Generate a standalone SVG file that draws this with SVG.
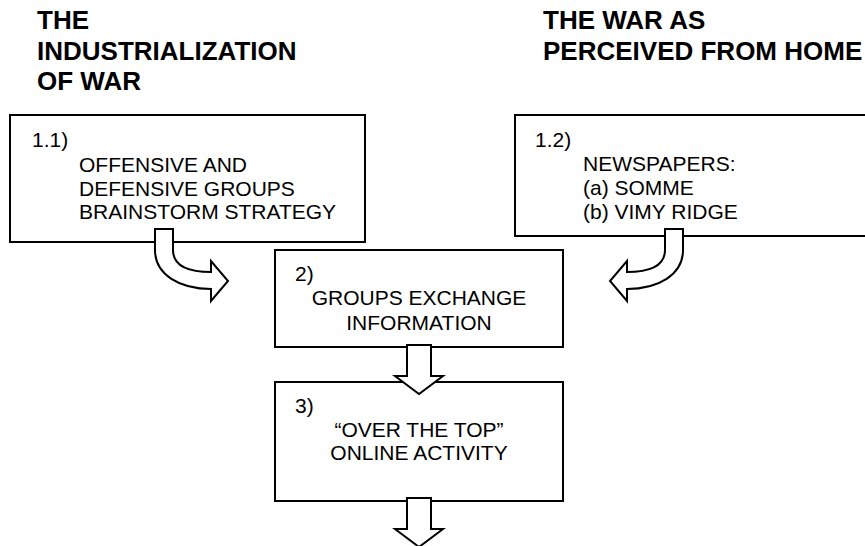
<svg xmlns="http://www.w3.org/2000/svg" width="865" height="546" viewBox="0 0 865 546">
<style>
.box{fill:#fff;stroke:#000;stroke-width:2}
.arr{fill:#fff;stroke:#000;stroke-width:2;stroke-linejoin:miter}
.h{font-family:"Liberation Sans",Arial,sans-serif;font-weight:bold;font-size:26px;fill:#000}
.t{font-family:"Liberation Sans",Arial,sans-serif;font-size:21px;fill:#000}
.c{text-anchor:middle}
</style>
<rect width="865" height="546" fill="#fff"/>
<g id="heading-left">
<text class="h" x="37" y="29">THE</text>
<text class="h" x="37" y="59.5">INDUSTRIALIZATION</text>
<text class="h" x="37" y="90">OF WAR</text>
</g>
<g id="heading-right">
<text class="h" x="543" y="29">THE WAR AS</text>
<text class="h" x="543" y="59.5">PERCEIVED FROM HOME</text>
</g>
<g id="node-1-1">
<rect class="box" x="10" y="115" width="355" height="127"/>
<text class="t" x="32" y="147">1.1)</text>
<text class="t" x="79" y="172">OFFENSIVE AND</text>
<text class="t" x="79" y="196">DEFENSIVE GROUPS</text>
<text class="t" x="79" y="219">BRAINSTORM STRATEGY</text>
</g>
<g id="node-1-2">
<rect class="box" x="515" y="115" width="370" height="121"/>
<text class="t" x="535" y="147">1.2)</text>
<text class="t" x="583" y="171">NEWSPAPERS:</text>
<text class="t" x="583" y="195">(a) SOMME</text>
<text class="t" x="583" y="219">(b) VIMY RIDGE</text>
</g>
<g id="node-2">
<rect class="box" x="275" y="250" width="288" height="97"/>
<text class="t" x="295" y="281">2)</text>
<text class="t c" x="419" y="305">GROUPS EXCHANGE</text>
<text class="t c" x="419" y="330">INFORMATION</text>
</g>
<g id="node-3">
<rect class="box" x="275" y="382" width="288" height="119"/>
<text class="t" x="295" y="413">3)</text>
<text class="t c" x="419" y="437">“OVER THE TOP”</text>
<text class="t c" x="419" y="460">ONLINE ACTIVITY</text>
</g>
<g id="connectors">
<path id="arrow-left" class="arr" d="M155,229 L173,229 L173,250 C173,264 185,272 211,272 L211,261 L228,281 L211,301 L211,289 C180,289 155,275 155,250 Z"/>
<path id="arrow-right" class="arr" transform="translate(838,0) scale(-1,1)" d="M155,229 L173,229 L173,250 C173,264 185,272 211,272 L211,261 L228,281 L211,301 L211,289 C180,289 155,275 155,250 Z"/>
<path id="arrow-down-1" class="arr" d="M407,345 L431,345 L431,376 L443,376 L419,394 L395,376 L407,376 Z"/>
<path id="arrow-down-2" class="arr" d="M407,498 L431,498 L431,529 L443,529 L419,547 L395,529 L407,529 Z"/>
</g>
</svg>
